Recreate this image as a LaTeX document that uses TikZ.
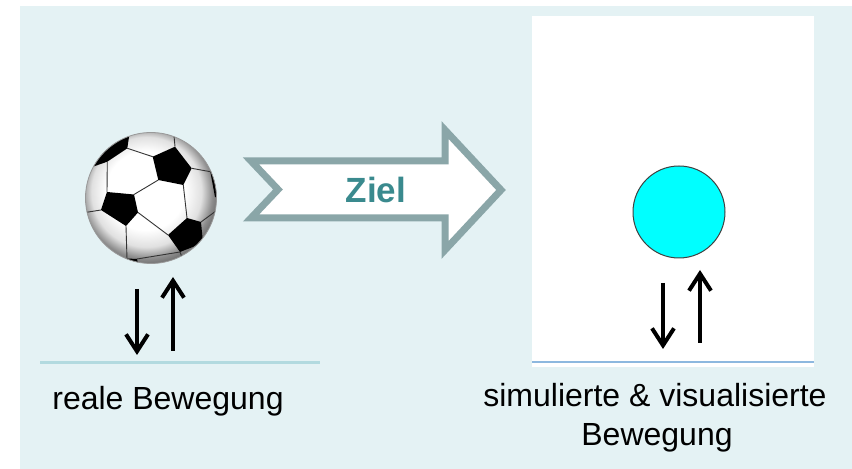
\documentclass[tikz,border=0pt]{standalone}
\usepackage{fontspec}
\setmainfont{Liberation Sans}
\usetikzlibrary{arrows.meta}

\definecolor{panel}{HTML}{E4F2F4}
\definecolor{groundreal}{HTML}{B2DADF}
\definecolor{groundsim}{HTML}{8DB8DF}
\definecolor{zielline}{HTML}{8AA6A8}
\definecolor{zieltext}{HTML}{3A8A8E}
\definecolor{simball}{HTML}{00FFFF}

% soft white-to-grey sphere shading for the football
\pgfdeclareradialshading{ballshade}{\pgfpoint{-3bp}{4bp}}{%
  color(0bp)=(white); color(15bp)=(white); color(21bp)=(black!12);
  color(25bp)=(black!45); color(27bp)=(black!55); color(50bp)=(black!55)}

\tikzset{
  bounce/.style={line width=2pt, -{Straight Barb[length=8.5pt,width=11pt]}},
  caption/.style={font=\fontsize{16}{19}\selectfont, inner sep=0pt, anchor=base},
  patch/.style={fill=black},
  seam/.style={draw=black!80, line width=0.45pt},
}

\begin{document}
\begin{tikzpicture}[x=0.5pt,y=-0.5pt]
  \useasboundingbox (0,0) rectangle (852,469);
  % light panel behind everything
  \fill[panel] (20,6) rectangle (852,469);

  % ---------------- real motion: football ----------------
  \coordinate (bc) at (151,198);
  \shade[shading=ballshade] (bc) circle[radius=65.5];
  \begin{scope}
    \clip (bc) circle[radius=65.5];
    % black pentagons
    \fill[patch] (131,125) -- (129,137) -- (127.3,148.3) -- (107.3,161.7)
      -- (92,167) -- (80,160) -- (100,130) -- cycle;
    \fill[patch] (152.7,156.7) -- (175,146.7) -- (191.7,168.3) -- (183.3,185) -- (158.3,180) -- cycle;
    \fill[patch] (107,192) -- (134,194.5) -- (138,212.5) -- (126,226) -- (101,210) -- cycle;
    \fill[patch] (168,235) -- (187,218) -- (201,222) -- (203,243) -- (180,252) -- cycle;
    \fill[patch] (117,258) -- (137,259) -- (140,272) -- (115,272) -- cycle;
    \fill[patch] (210,170) -- (225,165) -- (225,200) -- (215,197) -- cycle;
    % seams between the panels
    \draw[seam] (127.3,148.3) -- (152.7,156.7);
    \draw[seam] (107.3,161.7) -- (107,192);
    \draw[seam] (175,146.7) -- (173.3,128);
    \draw[seam] (191.7,168.3) -- (212,172);
    \draw[seam] (158.3,180) -- (134,194.5);
    \draw[seam] (183.3,185) -- (187,218);
    \draw[seam] (138,212.5) -- (168,235);
    \draw[seam] (101,210) -- (82,213);
    \draw[seam] (126,226) -- (127,259);
    \draw[seam] (201,222) -- (220,208);
    \draw[seam] (203,243) -- (214,239);
    \draw[seam] (180,252) -- (187,270);
    \draw[seam] (137,259) -- (180,252);
  \end{scope}
  \draw[black!40, line width=0.4pt] (bc) circle[radius=65.5];

  % ground line and bounce arrows (real)
  \coordinate (gl1) at (40,363);
  \coordinate (gl2) at (320,363);
  \draw[groundreal, line width=1.5pt] (gl1) -- (gl2);
  \coordinate (rd1) at (137,289);
  \coordinate (rd2) at (137,355);
  \coordinate (ru1) at (173,351);
  \coordinate (ru2) at (173,277);
  \draw[bounce] (rd1) -- (rd2);
  \draw[bounce] (ru1) -- (ru2);
  \node[caption] (lreal) at (168,410) {reale Bewegung};

  % ---------------- goal arrow ----------------
  \draw[zielline, fill=white, line width=3.5pt, line join=miter]
    (251,161) -- (445,161) -- (445,130) -- (501,190) -- (445,250)
    -- (445,218) -- (251,218) -- (278,189.5) -- cycle;
  \node[font=\fontsize{17.5}{20}\bfseries\selectfont, text=zieltext, inner sep=0pt]
    (ziel) at (376,190) {Ziel};

  % ---------------- simulated motion ----------------
  \fill[white] (532,16) rectangle (814,367);
  \coordinate (gs1) at (532,362);
  \coordinate (gs2) at (814,362);
  \draw[groundsim, line width=1pt] (gs1) -- (gs2);
  \node[circle, draw=black!75, line width=0.5pt, fill=simball,
        minimum size=46pt, inner sep=0pt] (simb) at (679,212) {};
  \coordinate (sd1) at (663,283);
  \coordinate (sd2) at (663,349);
  \coordinate (su1) at (700,343);
  \coordinate (su2) at (700,270);
  \draw[bounce] (sd1) -- (sd2);
  \draw[bounce] (su1) -- (su2);
  \node[caption] (sim1) at (655,407) {simulierte \& visualisierte};
  \node[caption] (sim2) at (657,446) {Bewegung};
\end{tikzpicture}
\end{document}
